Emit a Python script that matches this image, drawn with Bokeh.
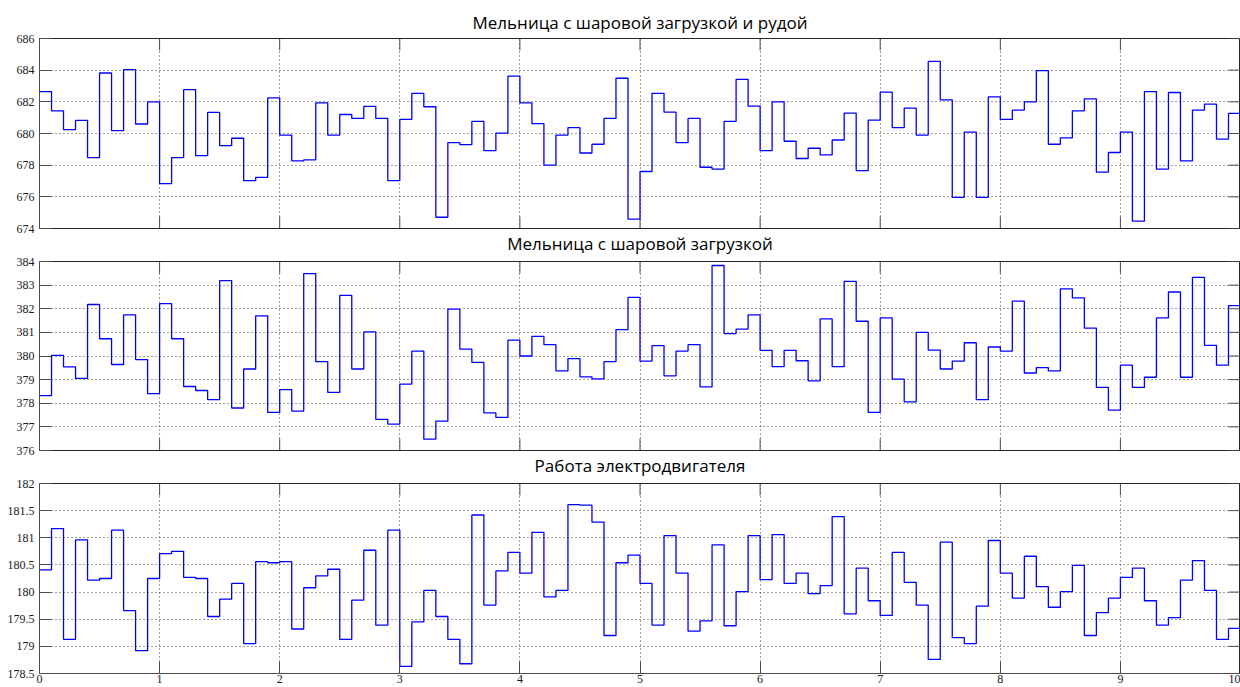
from bokeh.plotting import figure
from bokeh.layouts import column
from bokeh.models import Range1d, FixedTicker, Title
from bokeh.embed import file_html
from bokeh.resources import INLINE

titles = ["Мельница с шаровой загрузкой и рудой",
          "Мельница с шаровой загрузкой",
          "Работа электродвигателя"]

mill_ore = [682.65, 681.43, 680.24, 680.83, 678.48, 683.82, 680.18, 684.03, 680.6, 682.0,
            676.83, 678.48, 682.77, 678.6, 681.33, 679.24, 679.7, 677.02, 677.23, 682.25,
            679.9, 678.27, 678.33, 681.94, 679.9, 681.2, 680.95, 681.71, 680.95, 677.02,
            680.89, 682.53, 681.69, 674.71, 679.42, 679.3, 680.76, 678.92, 680.03, 683.63,
            681.94, 680.62, 678.0, 679.9, 680.37, 678.77, 679.32, 680.95, 683.49, 674.59,
            677.6, 682.54, 681.35, 679.42, 680.95, 677.87, 677.75, 680.76, 683.42, 681.73,
            678.92, 682.0, 679.51, 678.42, 679.07, 678.65, 679.59, 681.29, 677.66, 680.85,
            682.61, 680.37, 681.6, 679.9, 684.55, 682.13, 675.97, 680.09, 675.97, 682.31,
            680.89, 681.48, 682.0, 683.97, 679.32, 679.72, 681.43, 682.19, 677.56, 678.8,
            680.09, 674.46, 682.65, 677.75, 682.59, 678.27, 681.48, 681.85, 679.65, 681.27]

mill_balls = [378.32, 380.03, 379.54, 379.05, 382.18, 380.73, 379.64, 381.74, 379.85, 378.41,
              382.22, 380.73, 378.71, 378.54, 378.15, 383.19, 377.8, 379.45, 381.7, 377.61,
              378.58, 377.67, 383.49, 379.76, 378.46, 382.57, 379.45, 381.02, 377.32, 377.12,
              378.81, 380.21, 376.48, 377.24, 381.98, 380.29, 379.73, 377.59, 377.4, 380.67,
              380.0, 380.83, 380.48, 379.37, 379.89, 379.12, 379.03, 379.76, 381.12, 382.48,
              379.78, 380.44, 379.16, 380.21, 380.48, 378.69, 383.83, 380.95, 381.14, 381.74,
              380.24, 379.55, 380.24, 379.8, 378.95, 381.57, 379.55, 383.16, 381.47, 377.61,
              381.61, 379.02, 378.06, 381.0, 380.25, 379.45, 379.78, 380.56, 378.15, 380.38,
              380.21, 382.32, 379.28, 379.51, 379.37, 382.84, 382.46, 381.18, 378.67, 377.71,
              379.61, 378.67, 379.1, 381.61, 382.71, 379.1, 383.33, 380.45, 379.61, 382.13]

motor = [180.41, 181.17, 179.13, 180.96, 180.22, 180.25, 181.14, 179.66, 178.92, 180.25,
         180.71, 180.75, 180.27, 180.25, 179.55, 179.87, 180.16, 179.05, 180.56, 180.54,
         180.56, 179.32, 180.08, 180.3, 180.42, 179.13, 179.85, 180.77, 179.39, 181.14,
         178.63, 179.45, 180.03, 179.55, 179.13, 178.68, 181.42, 179.76, 180.39, 180.73,
         180.35, 181.1, 179.91, 180.03, 181.61, 181.6, 181.29, 179.2, 180.54, 180.68,
         180.16, 179.39, 181.04, 180.35, 179.28, 179.47, 180.87, 179.38, 180.01, 181.04,
         180.23, 181.06, 180.16, 180.35, 179.97, 180.12, 181.39, 179.6, 180.44, 179.84,
         179.57, 180.73, 180.18, 179.76, 178.76, 180.92, 179.16, 179.05, 179.74, 180.95,
         180.35, 179.89, 180.66, 180.1, 179.72, 180.01, 180.49, 179.2, 179.62, 179.89,
         180.27, 180.44, 179.84, 179.39, 179.53, 180.22, 180.58, 180.03, 179.13, 179.33]

x_ticks = [0, 1, 2, 3, 4, 5, 6, 7, 8, 9, 10]
y_ticks_1 = [674, 676, 678, 680, 682, 684, 686]
y_ticks_2 = [376, 377, 378, 379, 380, 381, 382, 383, 384]
y_ticks_3 = [178.5, 179, 179.5, 180, 180.5, 181, 181.5, 182]

dt = 0.1
TICK_FONT = "Liberation Sans Narrow"
AXIS_COL = "#4d4d4d"
W = 1240
LEFT = 39
TICK_LEN = 12


def style_axis(ax, ticks):
    ax.ticker = FixedTicker(ticks=ticks)
    ax.major_label_overrides = {t: f"{t:g}" for t in ticks}
    ax.major_tick_in = TICK_LEN
    ax.major_tick_out = 0
    ax.minor_tick_line_color = None
    ax.axis_line_color = AXIS_COL
    ax.major_tick_line_color = AXIS_COL
    ax.major_label_text_font = TICK_FONT
    ax.major_label_text_font_size = "12px"
    ax.major_label_text_color = "#1a1a1a"


def make_title(text, standoff):
    return Title(text=text, align="center", text_font="Open Sans",
                 text_font_size="17px", text_font_style="normal",
                 text_color="#000000", standoff=standoff)


def make_panel(values, yticks, top, frame_h, bottom, show_x):
    y0, y1 = yticks[0], yticks[-1]
    x0, x1 = x_ticks[0], x_ticks[-1]
    p = figure(width=W, height=top + frame_h + bottom, output_backend="svg",
               toolbar_location=None, title=None,
               x_range=Range1d(x0, x1), y_range=Range1d(y0, y1),
               min_border_left=LEFT, min_border_right=0, min_border_top=top,
               min_border_bottom=bottom)
    p.outline_line_color = "#262626"

    for g, t in ((p.xgrid[0], x_ticks), (p.ygrid[0], yticks)):
        g.ticker = FixedTicker(ticks=t)
        g.grid_line_color = "#000000"
        g.grid_line_alpha = 0.75
        g.grid_line_dash = "1 3"
        g.grid_line_width = 1

    xs = [i * dt for i in range(len(values) + 1)]
    ys = list(values) + [values[-1]]
    p.step(xs, ys, mode="after", line_color="#0000ff", line_width=1.3)

    style_axis(p.yaxis[0], yticks)
    if show_x:
        style_axis(p.xaxis[0], x_ticks)
        p.xaxis[0].major_label_standoff = 1
    else:
        p.xaxis.visible = False

    # inward box ticks on the unlabelled sides (MATLAB-like box)
    fw = W - LEFT
    dx = (x1 - x0) * TICK_LEN / fw
    dy = (y1 - y0) * TICK_LEN / frame_h
    tx = [t for t in x_ticks]
    p.segment(x0=tx, y0=[y1] * len(tx), x1=tx, y1=[y1 - dy] * len(tx),
              line_color=AXIS_COL, line_width=1)
    if not show_x:
        p.segment(x0=tx, y0=[y0] * len(tx), x1=tx, y1=[y0 + dy] * len(tx),
                  line_color=AXIS_COL, line_width=1)
    p.segment(x0=[x1] * len(yticks), y0=yticks, x1=[x1 - dx] * len(yticks), y1=yticks,
              line_color=AXIS_COL, line_width=1)
    return p


p1 = make_panel(mill_ore, y_ticks_1, 38, 191, 26, False)
p2 = make_panel(mill_balls, y_ticks_2, 6, 190, 26, False)
p3 = make_panel(motor, y_ticks_3, 6, 190, 14, True)

# panel titles: the 2nd and 3rd sit in the gap below the panel above them
p1.add_layout(make_title(titles[0], 10), "above")
p1.add_layout(make_title(titles[1], 2), "below")
p2.add_layout(make_title(titles[2], 2), "below")

p = column(p1, p2, p3, spacing=0)
open("out.html", "w").write(file_html(p, INLINE))
